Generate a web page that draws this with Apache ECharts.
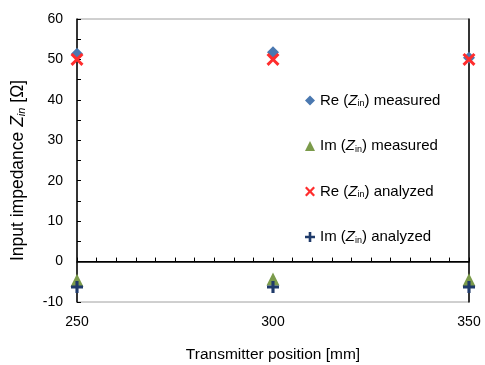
<!DOCTYPE html>
<html><head><meta charset="utf-8">
<script src="https://cdn.jsdelivr.net/npm/echarts@6/dist/echarts.min.js"></script>
<style>html,body{margin:0;padding:0;background:#fff}#c{width:485px;height:365px}</style>
</head><body><div id="c"></div>
<script>
const positions = [250, 300, 350];
const reMeasured = [51.4, 51.8, 50.4];
const imMeasured = [-4.6, -4.3, -4.5];
const reAnalyzed = [50.0, 50.0, 50.0];
const imAnalyzed = [-6.3, -6.3, -6.3];
const xTickLabels = [250, 300, 350];
const yTickLabels = [-10, 0, 10, 20, 30, 40, 50, 60];
const seriesNames = ['Re measured', 'Im measured', 'Re analyzed', 'Im analyzed'];
const legendText = {
  'Re measured': ['Re (', ') measured'],
  'Im measured': ['Im (', ') measured'],
  'Re analyzed': ['Re (', ') analyzed'],
  'Im analyzed': ['Im (', ') analyzed']
};
const crossPath = 'path://M0,1.6 L1.6,0 L5,3.4 L8.4,0 L10,1.6 L6.6,5 L10,8.4 L8.4,10 L5,6.6 L1.6,10 L0,8.4 L3.4,5 Z';
const plusPath = 'path://M3.7,0 H6.3 V3.7 H10 V6.3 H6.3 V10 H3.7 V6.3 H0 V3.7 H3.7 Z';
const font = 'Liberation Sans, Arial, sans-serif';
const pts = arr => positions.map((p, i) => [p, arr[i]]);

const chart = echarts.init(document.getElementById('c'), null, {renderer: 'canvas'});
chart.setOption({
  animation: false,
  textStyle: {fontFamily: font},
  grid: {left: 77, right: 16, top: 19, bottom: 63, show: true, borderColor: '#a0a0a0', borderWidth: 1,
         containLabel: false, outerBoundsMode: 'none'},
  legend: {
    orient: 'vertical', left: 300, top: 88, itemGap: 30, itemWidth: 10, itemHeight: 10,
    data: [
      {name: seriesNames[0], icon: 'diamond'},
      {name: seriesNames[1], icon: 'triangle'},
      {name: seriesNames[2], icon: crossPath},
      {name: seriesNames[3], icon: plusPath}
    ],
    textStyle: {
      fontFamily: font, fontSize: 15, color: '#000',
      rich: {
        t: {fontFamily: font, fontSize: 15, color: '#000'},
        z: {fontFamily: font, fontSize: 15, color: '#000', fontStyle: 'italic'},
        s: {fontFamily: font, fontSize: 9, color: '#000', verticalAlign: 'bottom', padding: [7, 0, 0, 0]}
      }
    },
    formatter: n => '{t|' + legendText[n][0] + '}{z|Z}{s|in}{t|' + legendText[n][1] + '}'
  },
  xAxis: {
    type: 'value', min: 250, max: 350, interval: 5,
    name: 'Transmitter position [mm]', nameLocation: 'middle', nameGap: 45,
    nameTextStyle: {fontFamily: font, fontSize: 15.5, color: '#000'},
    axisLine: {lineStyle: {color: '#000', width: 1.5}},
    axisTick: {inside: true, length: 4, lineStyle: {color: '#000'}},
    axisLabel: {fontFamily: font, fontSize: 14, color: '#000', margin: 13,
      formatter: v => xTickLabels.includes(v) ? String(v) : ''},
    splitLine: {show: false}
  },
  yAxis: [{
    type: 'value', min: -10, max: 60, interval: 5,
    name: '{t|Input impedance }{z|Z}{s|in}{t| [Ω]}', nameLocation: 'middle', nameGap: 50, nameRotate: 90,
    nameTextStyle: {
      fontFamily: font, fontSize: 17.5, color: '#000', padding: [0, 20, 0, 0],
      rich: {
        t: {fontFamily: font, fontSize: 17.5, color: '#000'},
        z: {fontFamily: font, fontSize: 17.5, color: '#000', fontStyle: 'italic'},
        s: {fontFamily: font, fontSize: 11, color: '#000', fontStyle: 'italic', verticalAlign: 'bottom', padding: [7, 0, 0, 0]}
      }
    },
    axisLine: {show: true, onZero: false, lineStyle: {color: '#000', width: 1.5}},
    axisTick: {inside: true, length: 4, lineStyle: {color: '#000'}},
    axisLabel: {fontFamily: font, fontSize: 14, color: '#000', margin: 14,
      formatter: v => yTickLabels.includes(v) ? String(v) : ''},
    splitLine: {show: false}
  }, {
    type: 'value', min: -10, max: 60, position: 'right',
    axisLine: {show: true, onZero: false, lineStyle: {color: '#000', width: 1.5}},
    axisTick: {show: false}, axisLabel: {show: false}, splitLine: {show: false}
  }],
  series: [
    {name: seriesNames[0], type: 'scatter', clip: false, symbol: 'diamond', symbolSize: 12,
     itemStyle: {color: '#4a78b0', opacity: 1}, data: pts(reMeasured), z: 3,
     markLine: {silent: true, symbol: 'none', label: {show: false}, lineStyle: {color: '#000', type: 'solid', width: 1.2}, data: [{yAxis: 0}]}},
    {name: seriesNames[1], type: 'scatter', clip: false, symbol: 'triangle', symbolSize: 13,
     itemStyle: {color: '#7b9b4b', opacity: 1}, data: pts(imMeasured), z: 3},
    {name: seriesNames[2], type: 'scatter', clip: false, symbol: crossPath, symbolSize: 13,
     itemStyle: {color: '#ff2d2d', opacity: 1}, data: pts(reAnalyzed), z: 4},
    {name: seriesNames[3], type: 'scatter', clip: false, symbol: plusPath, symbolSize: 12,
     itemStyle: {color: '#1f3a6a', opacity: 1}, data: pts(imAnalyzed), z: 4}
  ]
});
</script></body></html>
